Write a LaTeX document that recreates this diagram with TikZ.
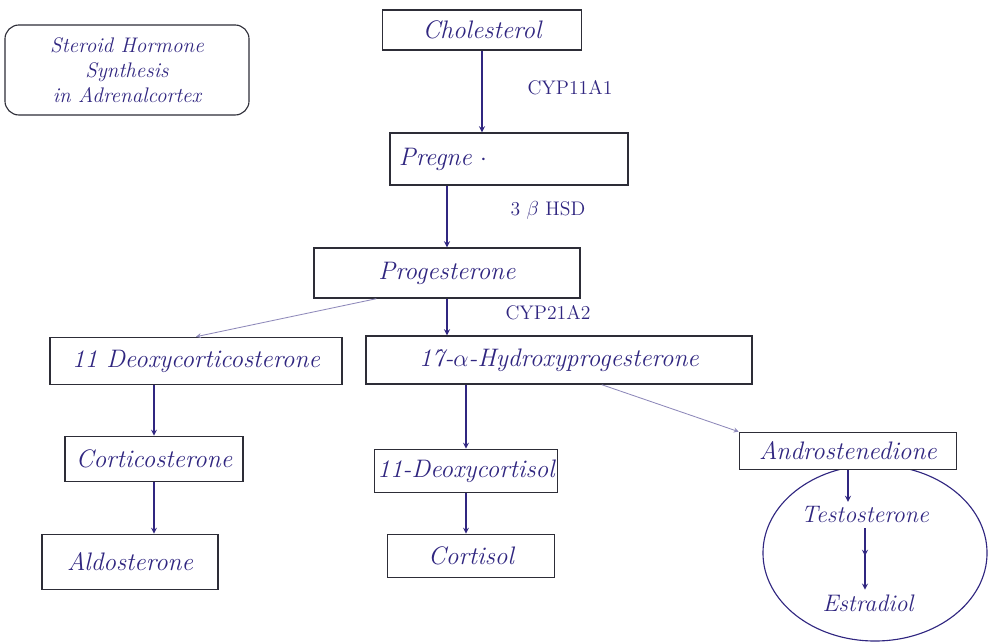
\documentclass[tikz,border=0pt]{standalone}
\usepackage{tikz}
\usepackage{xcolor}
\usetikzlibrary{
    arrows,
    calc,
    shapes,
    decorations.markings
}
\definecolor{ink}{RGB}{48,38,128}
\definecolor{pencil}{RGB}{45,45,55}

\begin{document}
\begin{tikzpicture}[x=0.025cm, y=-0.025cm,
    box/.style={rectangle, draw=pencil, line width=1pt, fill=white, text=ink,
        font=\itshape\fontsize{18}{21}\selectfont, inner sep=2pt},
    flow/.style={->, >=stealth, draw=ink, line width=0.9pt},
    side flow/.style={->, >=stealth, draw=ink!55, line width=0.6pt},
    enzyme/.style={text=ink, font=\fontsize{14}{16}\selectfont}]
\useasboundingbox (0,0) rectangle (990,642);

% title
\node[draw=pencil, rounded corners=10pt, line width=0.8pt, text=ink, align=center,
    font=\itshape\fontsize{15}{18}\selectfont, minimum width=6.1cm, minimum height=2.25cm]
    (title) at (127,70) {Steroid Hormone\\Synthesis\\in Adrenalcortex};

% main chain
\node[box, minimum width=4.98cm, minimum height=1cm] (chol) at (482,30) {Cholesterol};
\node[box, minimum width=5.95cm, minimum height=1.3cm, text width=5.5cm, align=left] (pregne) at (509,159) {Pregne $\cdot$};
\node[box, minimum width=6.65cm, minimum height=1.25cm] (prog) at (447,273) {Progesterone};

% left branch
\node[box, minimum width=7.3cm, minimum height=1.18cm] (dcortico) at (196,361) {11 Deoxycorticosterone};
\node[box, minimum width=4.45cm, minimum height=1.13cm] (cortico) at (154,459) {Corticosterone};
\node[box, minimum width=4.4cm, minimum height=1.38cm] (aldo) at (130,562) {Aldosterone};

% middle branch
\node[box, minimum width=9.65cm, minimum height=1.2cm] (hprog) at (559,360) {17-$\alpha$-Hydroxyprogesterone};
\node[box, minimum width=4.3cm, minimum height=1.08cm] (dcortisol) at (466,471) {11-Deoxycortisol};
\node[box, minimum width=4.18cm, minimum height=1.08cm] (cortisol) at (471,556) {Cortisol};

% right branch
\draw[draw=ink, line width=0.8pt] (875,553) ellipse [x radius=2.8cm, y radius=2.2cm];
\node[box, minimum width=5.43cm, minimum height=0.93cm] (andro) at (848,451) {Androstenedione};
\node[text=ink, font=\itshape\fontsize{17}{20}\selectfont] (testo) at (865,515) {Testosterone};
\node[text=ink, font=\itshape\fontsize{17}{20}\selectfont] (estra) at (868,603) {Estradiol};

% enzymes
\node[enzyme] (cypa) at (570,88) {CYP11A1};
\node[enzyme] (hsd) at (548,210) {3 $\beta$ HSD};
\node[enzyme] (cypb) at (548,313) {CYP21A2};

% arrows
\draw[flow] (chol.south) -- (chol.south |- pregne.north);
\draw[flow] (pregne.south -| prog.north) -- (prog.north);
\draw[flow] (prog.south) -- (prog.south |- hprog.north);
\draw[side flow] (prog.200) -- (dcortico.north);
\draw[flow] (dcortico.south -| cortico.north) -- (cortico.north);
\draw[flow] (cortico.south) -- (cortico.south |- aldo.north);
\draw[flow] (hprog.south -| dcortisol.north) -- (dcortisol.north);
\draw[flow] (dcortisol.south) -- (dcortisol.south |- cortisol.north);
\draw[side flow] (hprog.-30) -- (andro.north west);
\draw[flow] (andro.south) -- (andro.south |- testo.north);
\draw[flow, decoration={markings, mark=at position 0.45 with {\arrow{stealth}}}, postaction={decorate}]
    (testo.south) -- (testo.south |- estra.north);
\end{tikzpicture}
\end{document}
